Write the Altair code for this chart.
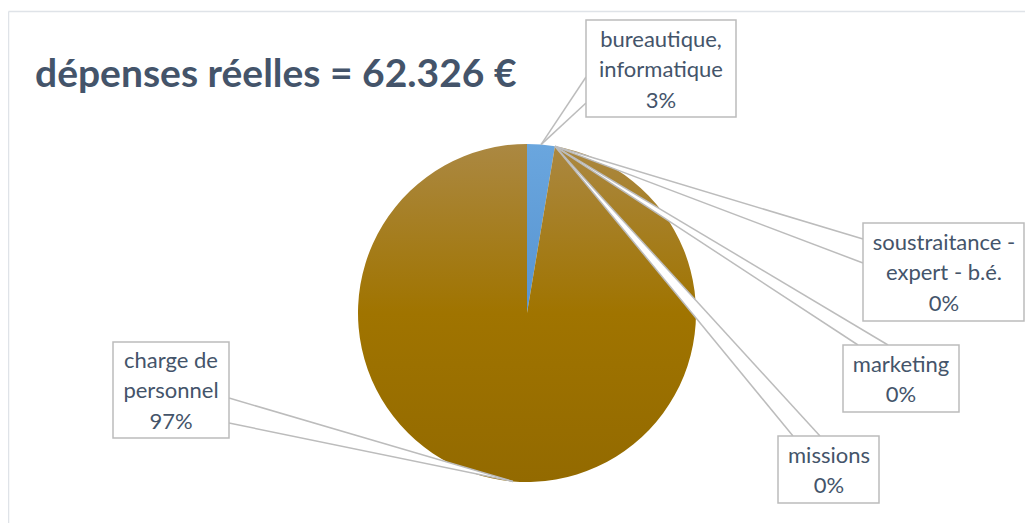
import math
import altair as alt
import pandas as pd

# ---------------- data ----------------
categories = ["bureautique, informatique", "soustraitance - expert - b.é.",
              "marketing", "missions", "charge de personnel"]
label_lines = [["bureautique,", "informatique"], ["soustraitance -", "expert - b.é."],
               ["marketing"], ["missions"], ["charge de", "personnel"]]
values = [1650, 0, 0, 0, 60676]
title_text = "dépenses réelles = 62.326 €"

# ---------------- layout (page pixels) ----------------
W, H = 1017, 515
OFF = 8
CX, CY, R = 527 - OFF, 313 - OFF, 169
LH = 30.5  # label line height

# box (x0, y0, x1, y1), text centre, wedge base points, wedge orientation
callout_layout = {
    "bureautique, informatique": dict(box=(586, 20, 736, 117), t=(661, 70), b=(586, 77), c=(586, 103), o="v"),
    "soustraitance - expert - b.é.": dict(box=(863, 223, 1024, 321), t=(944, 273), b=(863, 239), c=(863, 263), o="v"),
    "marketing": dict(box=(843, 345, 959, 412), t=(901, 380), b=(858, 345), c=(888, 345), o="h"),
    "missions": dict(box=(778, 436, 879, 503), t=(829, 471), b=(793, 436), c=(820, 436), o="h"),
    "charge de personnel": dict(box=(113, 342, 229, 438), t=(171, 391), b=(229, 398), c=(229, 423), o="v"),
}

GRAY = "#bcbcbc"
TXT = "#44546a"
FONT = "Lato"

xs = alt.Scale(domain=[0, W], range=[0, W], nice=False, zero=False)
ys = alt.Scale(domain=[0, H], range=[0, H], nice=False, zero=False)

total = sum(values)
pie_df = pd.DataFrame({"cat": categories, "value": values, "idx": list(range(len(values)))})

cum = 0.0
call_rows, wv_rows, wh_rows, edge_rows = [], [], [], []
for cat, lines, v in zip(categories, label_lines, values):
    frac = v / total
    mid = (cum + frac / 2) * 2 * math.pi
    cum += frac
    ax = CX + R * math.sin(mid)
    ay = CY - R * math.cos(mid)
    L = callout_layout[cat]
    x0, y0, x1, y1 = [p - OFF for p in L["box"]]
    tx, ty = [p - OFF for p in L["t"]]
    bx, by = [p - OFF for p in L["b"]]
    cx_, cy_ = [p - OFF for p in L["c"]]
    pct = f"{round(100 * v / total)}%"
    text = lines + [pct]
    ty_first = ty - (len(text) - 1) * LH / 2
    call_rows.append(dict(cat=cat, x0=x0, y0=y0, x1=x1, y1=y1, tx=tx, ty=ty_first, text=text))
    edge_rows.append(dict(cat=cat, x=ax, y=ay, x2=bx, y2=by))
    edge_rows.append(dict(cat=cat, x=ax, y=ay, x2=cx_, y2=cy_))
    if L["o"] == "v":
        wv_rows.append(dict(cat=cat, px=ax, py=ay, py2=ay))
        wv_rows.append(dict(cat=cat, px=bx, py=by, py2=cy_))
    else:
        wh_rows.append(dict(cat=cat, py=ay, px=ax, px2=ax))
        wh_rows.append(dict(cat=cat, py=by, px=bx, px2=cx_))

call_df = pd.DataFrame(call_rows)
edge_df = pd.DataFrame(edge_rows)
wv_df = pd.DataFrame(wv_rows)
wh_df = pd.DataFrame(wh_rows)

border_df = pd.DataFrame([
    dict(x=0.5, y=3.5, x2=0.5, y2=H),
    dict(x=0.5, y=3.5, x2=W, y2=3.5),
])

brown = {"gradient": "linear", "x1": 0, "y1": 0, "x2": 0, "y2": 1,
         "stops": [{"offset": 0, "color": "#ab8842"},
                   {"offset": 0.5, "color": "#a07400"},
                   {"offset": 1, "color": "#936a00"}]}
blue = {"gradient": "linear", "x1": 0, "y1": 0, "x2": 0, "y2": 1,
        "stops": [{"offset": 0, "color": "#6aa6de"},
                  {"offset": 1, "color": "#5794d1"}]}

border = alt.Chart(border_df).mark_rule(color="#dfe3e8", strokeWidth=1.5).encode(
    x=alt.X("x:Q", scale=xs, axis=None), y=alt.Y("y:Q", scale=ys, axis=None),
    x2="x2:Q", y2="y2:Q")

pie = alt.Chart(pie_df).mark_arc(outerRadius=R).encode(
    theta=alt.Theta("value:Q", stack=True),
    order=alt.Order("idx:Q"),
    fill=alt.condition(alt.datum.cat == "charge de personnel", alt.value(brown), alt.value(blue)),
    x=alt.value(CX), y=alt.value(CY))

wedge_v = alt.Chart(wv_df).mark_area(fill="white", opacity=1, orient="vertical").encode(
    x=alt.X("px:Q", scale=xs, axis=None), y=alt.Y("py:Q", scale=ys, axis=None),
    y2="py2:Q", detail="cat:N")

wedge_h = alt.Chart(wh_df).mark_area(fill="white", opacity=1, orient="horizontal").encode(
    y=alt.Y("py:Q", scale=ys, axis=None), x=alt.X("px:Q", scale=xs, axis=None),
    x2="px2:Q", detail="cat:N")

edges = alt.Chart(edge_df).mark_rule(color=GRAY, strokeWidth=1.5).encode(
    x=alt.X("x:Q", scale=xs, axis=None), y=alt.Y("y:Q", scale=ys, axis=None),
    x2="x2:Q", y2="y2:Q")

boxes = alt.Chart(call_df).mark_rect(fill="white", stroke=GRAY, strokeWidth=1.5).encode(
    x=alt.X("x0:Q", scale=xs, axis=None), y=alt.Y("y0:Q", scale=ys, axis=None),
    x2="x1:Q", y2="y1:Q")

labels = alt.Chart(call_df).mark_text(
    align="center", baseline="middle", lineHeight=LH, fontSize=22, font=FONT, color=TXT
).encode(
    x=alt.X("tx:Q", scale=xs, axis=None), y=alt.Y("ty:Q", scale=ys, axis=None),
    text=alt.Text("text:N"))

title = alt.Chart(pd.DataFrame({"t": [title_text]})).mark_text(
    align="left", baseline="alphabetic", fontSize=39, fontWeight="bold", font=FONT, color=TXT
).encode(x=alt.value(35 - OFF), y=alt.value(87 - OFF), text="t:N")

chart = alt.layer(border, pie, wedge_v, wedge_h, edges, boxes, labels, title).properties(
    width=W, height=H, autosize=alt.AutoSizeParams(type="none"), padding=0,
    background="white"
).configure_view(stroke=None)

chart.save("out.html", embed_options={"renderer": "svg", "actions": False})
